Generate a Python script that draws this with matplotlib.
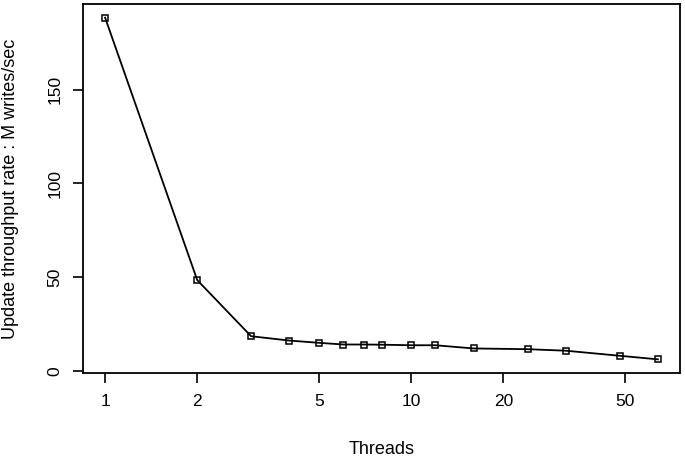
import matplotlib
matplotlib.use("Agg")
import matplotlib.pyplot as plt
import numpy as np

threads = [1, 2, 3, 4, 5, 6, 7, 8, 10, 12, 16, 24, 32, 48, 64]
rate = [188.3, 48.5, 18.6, 16.3, 15.1, 14.2, 14.2, 14.1, 13.8, 13.8, 12.1, 11.7, 10.9, 8.2, 6.3]
xticks = [1, 2, 5, 10, 20, 50]
yticks = [0, 50, 100, 150]

plt.rcParams['font.family'] = ['Liberation Sans', 'DejaVu Sans']

fig = plt.figure(figsize=(6.85, 4.59), dpi=100)
ax = fig.add_axes([83 / 685, 1 - 373 / 459, (680 - 83) / 685, (373 - 4) / 459])

ax.plot(threads, rate, color='black', lw=1.3, marker='s', ms=5,
        mfc='none', mec='black', mew=1.1)

# R-style 4% padding on both axes
ax.set_xscale('log')
lx = np.log10([min(threads), max(threads)])
pad = 0.04 * (lx[1] - lx[0])
ax.set_xlim(10 ** (lx[0] - pad), 10 ** (lx[1] + pad))
ypad = 0.04 * (max(rate) - min(rate))
ax.set_ylim(min(rate) - ypad, max(rate) + ypad)

ax.set_xticks(xticks)
ax.set_xticklabels([str(t) for t in xticks])
ax.xaxis.set_minor_locator(matplotlib.ticker.NullLocator())
ax.set_yticks(yticks)
ax.set_yticklabels([str(t) for t in yticks], rotation=90, va='center')

ax.tick_params(direction='out', length=7, width=1.2, labelsize=12.5, pad=8, colors='black')
for s in ax.spines.values():
    s.set_linewidth(1.3)

ax.set_xlabel('Threads', fontsize=13, labelpad=23)
ax.set_ylabel('Update throughput rate : M writes/sec', fontsize=13, labelpad=20)

fig.savefig('out.png', dpi=100)
